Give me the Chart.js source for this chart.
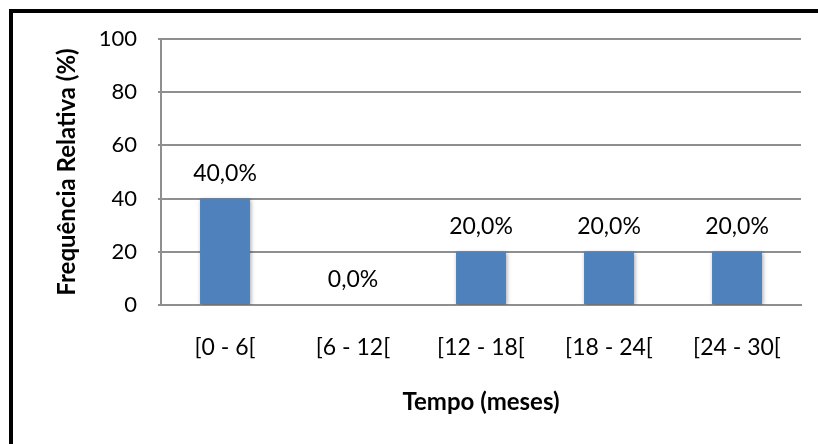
<!DOCTYPE html>
<html>
<head>
<meta charset="utf-8">
<script src="https://cdn.jsdelivr.net/npm/chart.js@4"></script>
<style>
  html, body { margin: 0; padding: 0; background: #fff; }
  #wrap { width: 818px; height: 444px; }
</style>
</head>
<body>
<div id="wrap"><canvas id="chart" width="818" height="444"></canvas></div>
<script>
(() => {
  const categories = ["[0 - 6[", "[6 - 12[", "[12 - 18[", "[18 - 24[", "[24 - 30["];
  const percents = [40, 0, 20, 20, 20];
  const yTicks = [0, 20, 40, 60, 80, 100];

  const font = "Lato";
  const gridColor = "#8f8f8f";

  // thick black frame (top and left edges only, the picture is cropped)
  const frame = {
    id: "frame",
    beforeDraw(chart) {
      const ctx = chart.ctx;
      ctx.save();
      ctx.fillStyle = "#fff";
      ctx.fillRect(0, 0, chart.width, chart.height);
      ctx.fillStyle = "#000";
      ctx.fillRect(9, 9, chart.width - 9, 4);
      ctx.fillRect(9, 9, 4, chart.height - 9);
      ctx.restore();
    }
  };

  const barShadow = {
    id: "barShadow",
    beforeDatasetsDraw(chart) {
      const ctx = chart.ctx;
      ctx.save();
      ctx.shadowColor = "rgba(0,0,0,0.35)";
      ctx.shadowBlur = 4;
      ctx.shadowOffsetX = 1;
      ctx.shadowOffsetY = 1;
    },
    afterDatasetsDraw(chart) {
      chart.ctx.restore();
    }
  };

  const valueLabels = {
    id: "valueLabels",
    afterDatasetsDraw(chart) {
      const ctx = chart.ctx;
      const meta = chart.getDatasetMeta(0);
      ctx.save();
      ctx.font = "23px " + font;
      ctx.fillStyle = "#000";
      ctx.textAlign = "center";
      ctx.textBaseline = "middle";
      meta.data.forEach((bar, i) => {
        const v = chart.data.datasets[0].data[i];
        ctx.fillText(v.toFixed(1).replace(".", ",") + "%", bar.x, bar.y - 25);
      });
      ctx.restore();
    }
  };

  new Chart(document.getElementById("chart"), {
    type: "bar",
    data: {
      labels: categories,
      datasets: [{
        data: percents,
        backgroundColor: "#4f81bd",
        borderWidth: 0,
        categoryPercentage: 1,
        barPercentage: 0.39
      }]
    },
    options: {
      responsive: false,
      animation: false,
      events: [],
      layout: { padding: { left: 53, top: 39, right: 17, bottom: 27 } },
      plugins: { legend: { display: false }, tooltip: { enabled: false } },
      scales: {
        x: {
          afterFit: s => { s.height = 112; },
          grid: { display: false, drawTicks: false },
          border: { color: gridColor, width: 2 },
          ticks: { color: "#000", font: { family: font, size: 23 }, padding: 29, maxRotation: 0 },
          title: {
            display: true,
            text: "Tempo (meses)",
            color: "#000",
            font: { family: font, size: 24, weight: "bold" },
            padding: { top: 0, bottom: 0 }
          }
        },
        y: {
          min: 0,
          max: 100,
          afterFit: s => { s.width = 108; },
          afterBuildTicks: s => { s.ticks = yTicks.map(v => ({ value: v })); },
          grid: { color: gridColor, lineWidth: 2, tickLength: 3 },
          border: { color: gridColor, width: 2 },
          ticks: { color: "#000", font: { family: font, size: 22 }, padding: 21 },
          title: {
            display: true,
            text: "Frequência Relativa (%)",
            color: "#000",
            font: { family: font, size: 24, weight: "bold" },
            padding: { top: 0, bottom: 0 }
          }
        }
      }
    },
    plugins: [frame, barShadow, valueLabels]
  });
})();
</script>
</body>
</html>
